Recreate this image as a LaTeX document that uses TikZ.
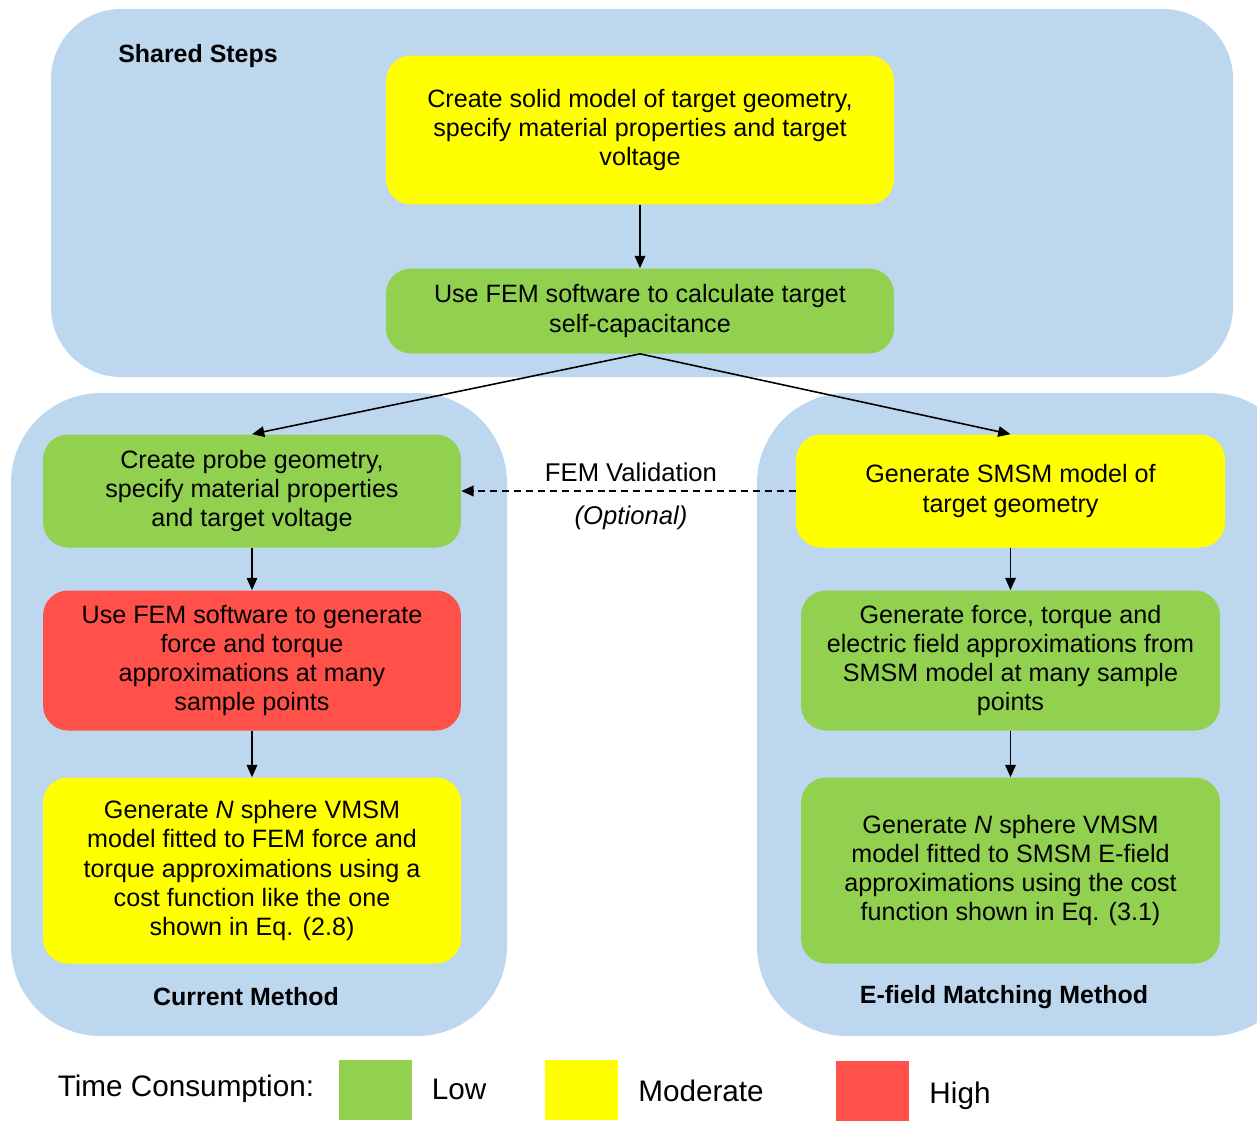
\documentclass[tikz,border=0pt]{standalone}
\usepackage{fontspec}
\setmainfont{Liberation Sans}
\usetikzlibrary{arrows.meta}

\definecolor{panelblue}{HTML}{BDD7EE}
\definecolor{lowgreen}{HTML}{92D050}
\definecolor{modyellow}{HTML}{FFFF00}
\definecolor{highred}{HTML}{FF5049}

\tikzset{
  stepbox/.style = {rounded corners=0.5cm, align=center, inner sep=0pt,
                    font=\fontsize{14.3}{16.6}\selectfont},
  panel/.style = {fill=panelblue, rounded corners=#1},
  flow/.style = {-{Triangle[length=7pt,width=6pt]}, line width=0.9pt},
  swatch/.style = {minimum width=1.46cm, minimum height=1.2cm, inner sep=0pt}
}

\begin{document}
\begin{tikzpicture}[x=0.02cm,y=-0.02cm]

\clip (0,0) rectangle (1257,1120);

% panels
\fill[panel=1.4cm] (51,9) rectangle (1233,377);
\fill[panel=1.8cm] (11,393) rectangle (507,1036);
\fill[panel=1.8cm] (757,393) rectangle (1300,1036);

\coordinate (b1) at (640,130);
\coordinate (b2) at (640,311);
\coordinate (l1) at (252,491);
\coordinate (l2) at (252,660.5);
\coordinate (l3) at (252,870.5);
\coordinate (r1) at (1010.5,491);
\coordinate (r2) at (1010.5,660.5);
\coordinate (r3) at (1010.5,870.5);

\node[stepbox, fill=modyellow, minimum width=10.16cm, minimum height=2.98cm] (solid) at (b1)
  {Create solid model of target geometry,\\specify material properties and target\\voltage};
\node[stepbox, fill=lowgreen, minimum width=10.16cm, minimum height=1.7cm] (selfcap) at (b2)
  {Use FEM software to calculate target\\self-capacitance};

\node[stepbox, fill=lowgreen, minimum width=8.36cm, minimum height=2.26cm] (probe) at (l1)
  {Create probe geometry,\\specify material properties\\and target voltage};
\node[stepbox, fill=highred, minimum width=8.36cm, minimum height=2.8cm] (femapprox) at (l2)
  {Use FEM software to generate\\force and torque\\approximations at many\\sample points};
\node[stepbox, fill=modyellow, minimum width=8.36cm, minimum height=3.72cm] (vmsmcur) at (l3)
  {Generate \textit{N} sphere VMSM\\model fitted to FEM force and\\torque approximations using a\\cost function like the one\\shown in Eq. (2.8)};

\node[stepbox, fill=modyellow, minimum width=8.58cm, minimum height=2.26cm] (smsm) at (r1)
  {Generate SMSM model of\\target geometry};
\node[stepbox, fill=lowgreen, minimum width=8.38cm, minimum height=2.8cm] (smsmapprox) at (r2)
  {Generate force, torque and\\electric field approximations from\\SMSM model at many sample\\points};
\node[stepbox, fill=lowgreen, minimum width=8.38cm, minimum height=3.72cm] (vmsmnew) at (r3)
  {Generate \textit{N} sphere VMSM\\model fitted to SMSM E-field\\approximations using the cost\\function shown in Eq. (3.1)};

% panel titles
\node[font=\fontsize{14.2}{16}\selectfont\bfseries] (shared) at (198,56) {Shared Steps};
\node[font=\fontsize{14.2}{16}\selectfont\bfseries] (current) at (246,997) {Current Method};
\node[font=\fontsize{14.2}{16}\selectfont\bfseries] (efield) at (1004,997) {E-field Matching Method};

% arrows
\draw[flow] (solid.south) -- (selfcap.north);
\draw[flow] (selfcap.south) -- (probe.north);
\draw[flow] (selfcap.south) -- (smsm.north);
\foreach \a/\b in {probe/femapprox,femapprox/vmsmcur,smsm/smsmapprox,smsmapprox/vmsmnew}
  {\draw[flow] (\a.south) -- (\b.north);}

\draw[flow, line width=1.2pt, dash pattern=on 4pt off 2.8pt] (smsm.west) -- (probe.east);
\node[font=\fontsize{14.6}{16}\selectfont] (valid) at (631,472) {FEM Validation};
\node[font=\fontsize{14.6}{16}\selectfont\itshape] (optional) at (631,518) {(Optional)};

% legend
\node[font=\fontsize{16.9}{19}\selectfont] (timecons) at (186,1089) {Time Consumption:};
\node[swatch, fill=lowgreen] (lowsw) at (375.5,1090) {};
\node[font=\fontsize{16.9}{19}\selectfont] (lowtxt) at (459,1089) {Low};
\node[swatch, fill=modyellow] (modsw) at (581.5,1090) {};
\node[font=\fontsize{16.9}{19}\selectfont] (modtxt) at (701,1091) {Moderate};
\node[swatch, fill=highred] (highsw) at (872,1091) {};
\node[font=\fontsize{16.9}{19}\selectfont] (hightxt) at (960,1096) {High};

\end{tikzpicture}
\end{document}
